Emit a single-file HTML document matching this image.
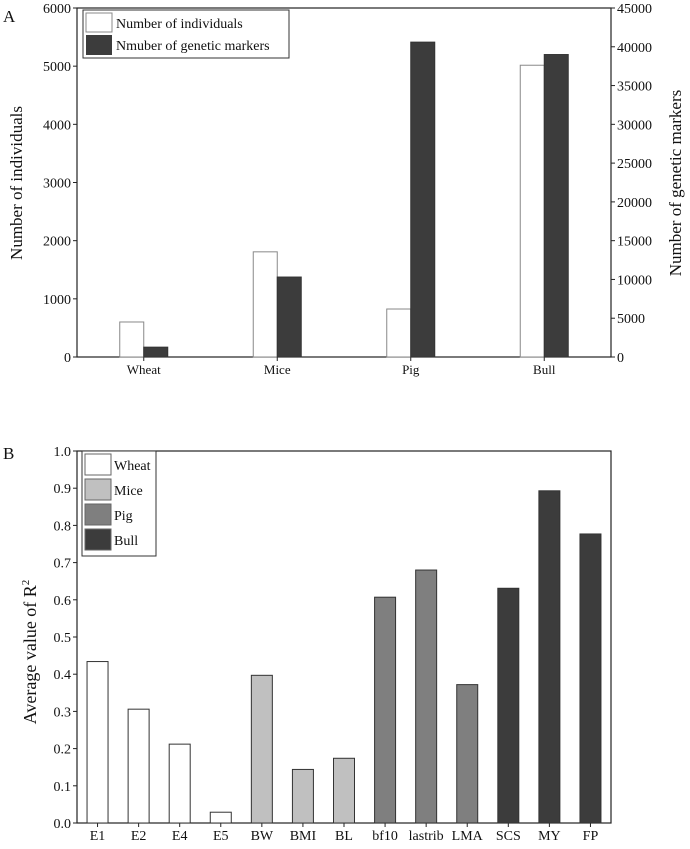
<!DOCTYPE html>
<html><head><meta charset="utf-8"><style>
body{margin:0;background:#fff;}
svg text{font-family:"Liberation Serif","Times New Roman",serif !important;fill:#111;}
</style></head><body>
<svg width="690" height="844" xmlns="http://www.w3.org/2000/svg" id="root" font-family="Liberation Serif, serif">
<g id="ga"></g>
<g id="gb"></g>
</svg>
<script>
const catsA=["Wheat","Mice","Pig","Bull"];
const individuals=[602,1808,825,5016];
const markers=[1270,10310,40600,39000];
const leftTicks=[0,1000,2000,3000,4000,5000,6000];
const rightTicks=[0,5000,10000,15000,20000,25000,30000,35000,40000,45000];
const catsB=["E1","E2","E4","E5","BW","BMI","BL","bf10","lastrib","LMA","SCS","MY","FP"];
const groupB=[0,0,0,0,1,1,1,2,2,2,3,3,3];
const r2=[0.434,0.306,0.212,0.029,0.397,0.144,0.174,0.607,0.680,0.372,0.631,0.893,0.777];
const ticksB=[0.0,0.1,0.2,0.3,0.4,0.5,0.6,0.7,0.8,0.9,1.0];
const groupNames=["Wheat","Mice","Pig","Bull"];
const groupColors=["#ffffff","#c0c0c0","#7f7f7f","#3c3c3c"];

const NS="http://www.w3.org/2000/svg";
function mk(p,t,a,txt){const e=document.createElementNS(NS,t);for(const k in a)e.setAttribute(k,a[k]);if(t==='text')e.setAttribute('font-family','Liberation Serif, serif');if(txt!==undefined)e.textContent=txt;p.appendChild(e);return e;}

// Chart A
const ga=document.getElementById('ga');
const L=77,R=611,AT=8,AB=357;
const yL=v=>AB-(v/6000)*(AB-AT);
const yR=v=>AB-(v/45000)*(AB-AT);
const stepA=(R-L)/catsA.length;
const xA=i=>L+stepA*(i+0.5);
let e;
e=mk(ga,'rect',{x:L,y:AT,width:R-L,height:AB-AT,fill:'none',stroke:'#222','stroke-width':1.2});

leftTicks.forEach(t=>{const y=yL(t);
 e=mk(ga,'line',{x1:L-4,x2:L,y1:y,y2:y,stroke:'#222'});
 e=mk(ga,'text',{x:L-6,y:y+5,'text-anchor':'end','font-size':14},t);});
rightTicks.forEach(t=>{const y=yR(t);
 e=mk(ga,'line',{x1:R,x2:R+4,y1:y,y2:y,stroke:'#222'});
 e=mk(ga,'text',{x:R+6,y:y+5,'text-anchor':'start','font-size':14},t);});
catsA.forEach((c,i)=>{const cx=xA(i);
 e=mk(ga,'line',{x1:cx,x2:cx,y1:AB,y2:AB+4,stroke:'#222'});
 e=mk(ga,'text',{x:cx,y:AB+17,'text-anchor':'middle','font-size':13},c);
 e=mk(ga,'rect',{x:cx-24,y:yL(individuals[i]),width:24,height:AB-yL(individuals[i]),fill:'#fff',stroke:'#888','stroke-width':1});
 
 e=mk(ga,'rect',{x:cx,y:yR(markers[i]),width:24,height:AB-yR(markers[i]),fill:'#3c3c3c',stroke:'#333'});
 });
e=mk(ga,'text',{x:22,y:183,'text-anchor':'middle','font-size':17,transform:'rotate(-90 22 183)'},'Number of individuals');
e=mk(ga,'text',{x:681,y:183,'text-anchor':'middle','font-size':17,transform:'rotate(-90 681 183)'},'Number of genetic markers');
e=mk(ga,'text',{x:3,y:22,'font-size':17},'A');
e=mk(ga,'rect',{x:83,y:10,width:206,height:48,fill:'#fff',stroke:'#333'});
e=mk(ga,'rect',{x:86,y:13,width:26,height:19,fill:'#fff',stroke:'#888'});
e=mk(ga,'text',{x:116,y:28,'font-size':14},'Number of individuals');
e=mk(ga,'rect',{x:86,y:35,width:26,height:20,fill:'#3c3c3c'});
e=mk(ga,'text',{x:116,y:50,'font-size':14},'Nmuber  of genetic markers');

// Chart B
const gb=document.getElementById('gb');
const BT=451,BB=823;
const yB=v=>BB-v*(BB-BT);
const stepB=(R-L)/catsB.length;
const xB=i=>L+stepB*(i+0.5);
e=mk(gb,'rect',{x:L,y:BT,width:R-L,height:BB-BT,fill:'none',stroke:'#222','stroke-width':1.2});
ticksB.forEach(t=>{const y=yB(t);
 e=mk(gb,'line',{x1:L-4,x2:L,y1:y,y2:y,stroke:'#222'});
 e=mk(gb,'text',{x:L-6,y:y+5,'text-anchor':'end','font-size':14},t.toFixed(1));});
catsB.forEach((c,i)=>{const cx=xB(i);
 e=mk(gb,'line',{x1:cx,x2:cx,y1:BB,y2:BB+4,stroke:'#222'});
 e=mk(gb,'text',{x:cx,y:BB+17,'text-anchor':'middle','font-size':14},c);
 e=mk(gb,'rect',{x:cx-10.5,y:yB(r2[i]),width:21,height:BB-yB(r2[i]),fill:groupColors[groupB[i]],stroke:'#333','stroke-width':1});
 });
e=mk(gb,'text',{x:36,y:652,'text-anchor':'middle','font-size':18,transform:'rotate(-90 36 652)'},'Average value of  R');
const sup=mk(e,'tspan',{dy:-7,'font-size':11},'2');


e=mk(gb,'text',{x:3,y:459,'font-size':17},'B');
e=mk(gb,'rect',{x:82,y:451,width:74,height:105,fill:'#fff',stroke:'#333'});
groupNames.forEach((g,i)=>{const y=454+i*25;
 e=mk(gb,'rect',{x:85,y:y,width:26,height:21,fill:groupColors[i],stroke:'#666'});
 e=mk(gb,'text',{x:114,y:y+16,'font-size':14},g);});
</script>
</body></html>
